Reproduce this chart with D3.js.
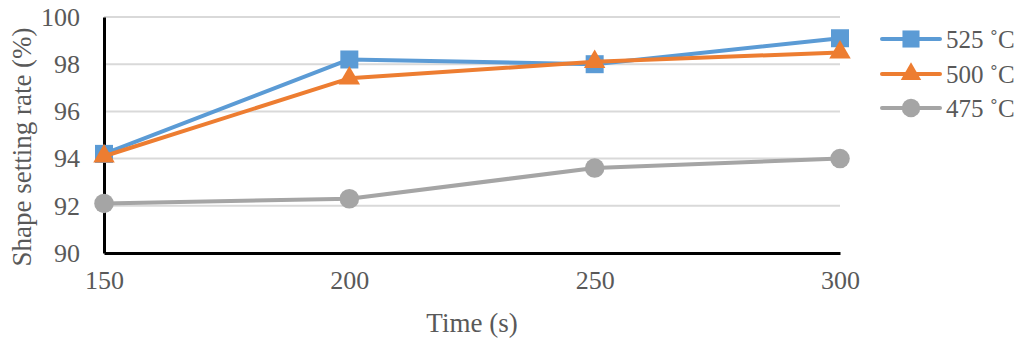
<!DOCTYPE html>
<html>
<head>
<meta charset="utf-8">
<script src="https://cdn.jsdelivr.net/npm/d3@7"></script>
<style>
  html, body { margin: 0; padding: 0; background: #fff; }
  svg { display: block; }
</style>
</head>
<body>
<svg id="chart" width="1024" height="345"></svg>
<script>
// chart data
var times = [150, 200, 250, 300];
var seriesNames = ['525 \u02DAC', '500 \u02DAC', '475 \u02DAC'];
var values525 = [94.2, 98.2, 98.0, 99.1];
var values500 = [94.1, 97.4, 98.1, 98.5];
var values475 = [92.1, 92.3, 93.6, 94.0];
var yTicks = [90, 92, 94, 96, 98, 100];

var series = [
  { name: seriesNames[0], values: values525, color: '#5B9BD5', symbol: d3.symbolSquare, size: 324 },
  { name: seriesNames[1], values: values500, color: '#ED7D31', symbol: d3.symbolTriangle, size: 200 },
  { name: seriesNames[2], values: values475, color: '#A5A5A5', symbol: d3.symbolCircle, size: 300 }
];

var svg = d3.select('#chart');
var serifFont = 'Liberation Serif';
var textColor = '#595959';

// scales
var x = d3.scaleLinear()
  .domain([150, 300])
  .range([104, 840]);

var y = d3.scaleLinear()
  .domain([90, 100])
  .range([253, 17]);

// gridlines
svg.append('g')
  .selectAll('line')
  .data(yTicks.slice(1))
  .enter()
  .append('line')
  .attr('x1', x(150))
  .attr('x2', x(300))
  .attr('y1', function (d) { return y(d); })
  .attr('y2', function (d) { return y(d); })
  .attr('stroke', '#D9D9D9')
  .attr('stroke-width', 2);

// y axis
var yAxis = svg.append('g')
  .attr('transform', 'translate(' + x(150) + ',0)')
  .call(d3.axisLeft(y).tickValues(yTicks).tickSize(0).tickPadding(24));
yAxis.attr('font-family', serifFont);
yAxis.select('.domain')
  .attr('stroke', '#000')
  .attr('stroke-width', 3);
yAxis.selectAll('text')
  .attr('fill', textColor)
  .attr('font-family', serifFont)
  .attr('font-size', 26);

// x axis
var xAxis = svg.append('g')
  .attr('transform', 'translate(0,' + y(90) + ')')
  .call(d3.axisBottom(x).tickValues(times).tickSize(0).tickPadding(18));
xAxis.attr('font-family', serifFont);
xAxis.select('.domain')
  .attr('stroke', '#000')
  .attr('stroke-width', 3);
xAxis.selectAll('text')
  .attr('fill', textColor)
  .attr('font-family', serifFont)
  .attr('font-size', 26);

// axis titles
svg.append('text')
  .attr('x', (x(150) + x(300)) / 2)
  .attr('y', 332)
  .attr('text-anchor', 'middle')
  .attr('fill', textColor)
  .attr('font-family', serifFont)
  .attr('font-size', 27)
  .text('Time (s)');

svg.append('text')
  .attr('transform', 'translate(31,147) rotate(-90)')
  .attr('text-anchor', 'middle')
  .attr('fill', textColor)
  .attr('font-family', serifFont)
  .attr('font-size', 27)
  .text('Shape setting rate (%)');

// series lines and markers
var line = d3.line()
  .x(function (d, i) { return x(times[i]); })
  .y(function (d) { return y(d); });

series.forEach(function (s) {
  var g = svg.append('g');
  g.append('path')
    .attr('d', line(s.values))
    .attr('fill', 'none')
    .attr('stroke', s.color)
    .attr('stroke-width', 4)
    .attr('stroke-linejoin', 'round');
  g.selectAll('path.marker')
    .data(s.values)
    .enter()
    .append('path')
    .attr('class', 'marker')
    .attr('d', d3.symbol().type(s.symbol).size(s.size))
    .attr('transform', function (d, i) {
      return 'translate(' + x(times[i]) + ',' + y(d) + ')';
    })
    .attr('fill', s.color);
});

// legend
var legend = svg.append('g');
var legendRows = [39, 74, 108];
series.forEach(function (s, i) {
  var row = legend.append('g')
    .attr('transform', 'translate(0,' + legendRows[i] + ')');
  row.append('line')
    .attr('x1', 882)
    .attr('x2', 940)
    .attr('stroke', s.color)
    .attr('stroke-width', 4)
    .attr('stroke-linecap', 'round');
  row.append('path')
    .attr('d', d3.symbol().type(s.symbol).size(s.size * 0.9))
    .attr('transform', 'translate(911,0)')
    .attr('fill', s.color);
  row.append('text')
    .attr('x', 946)
    .attr('y', 9)
    .attr('fill', textColor)
    .attr('font-family', serifFont)
    .attr('font-size', 25)
    .text(s.name);
});
</script>
</body>
</html>
